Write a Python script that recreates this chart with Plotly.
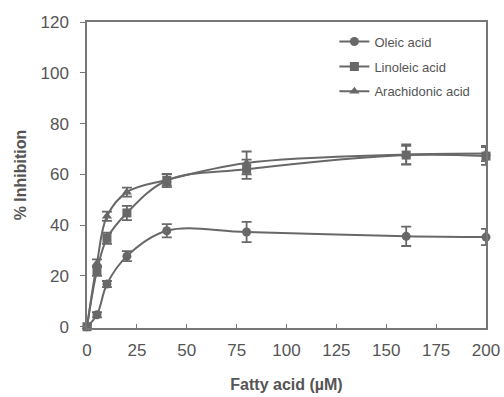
import plotly.graph_objects as go

conc = [0, 5, 10, 20, 40, 80, 160, 200]
oleic = [0, 4.7, 16.8, 27.8, 37.8, 37.3, 35.6, 35.3]
oleic_err = [0.8, 1.0, 1.2, 2.0, 2.6, 4.0, 3.8, 3.2]
linoleic = [0, 22, 34.8, 44.8, 57.6, 62, 67.6, 67.2]
linoleic_err = [0.8, 2.0, 2.2, 2.8, 2.6, 3.8, 3.6, 3.5]
arachidonic = [0, 25, 43.5, 53, 57.8, 64.5, 67.8, 68.2]
arachidonic_err = [0.8, 1.5, 1.8, 1.8, 2.2, 4.5, 4.0, 3.0]

names = ["Oleic acid", "Linoleic acid", "Arachidonic acid"]
series = [oleic, linoleic, arachidonic]
errs = [oleic_err, linoleic_err, arachidonic_err]
symbols = ["circle", "square", "triangle-up"]

col = "#686868"
fig = go.Figure()
for n, s, e, sym in zip(names, series, errs, symbols):
    fig.add_trace(go.Scatter(
        x=conc, y=s, name=n, mode="lines+markers", legendgroup=n,
        line=dict(color=col, width=2, shape="spline", smoothing=1.0),
        marker=dict(symbol=sym, size=9, color=col),
        error_y=dict(type="data", array=e, color=col, thickness=1.8, width=5),
        cliponaxis=False,
    ))

fig.update_layout(
    width=504, height=397,
    margin=dict(l=87, r=18, t=22, b=69),
    paper_bgcolor="white", plot_bgcolor="white",
    font=dict(family="Liberation Sans, Arial, sans-serif", color="#555555"),
    showlegend=True,
    legend=dict(x=0.62, y=0.985, xanchor="left", yanchor="top",
                bgcolor="rgba(0,0,0,0)", font=dict(size=13, color="#555555"),
                itemwidth=30, tracegroupgap=5),
    xaxis=dict(range=[0, 200], tickvals=[0, 25, 50, 75, 100, 125, 150, 175, 200],
               ticks="inside", ticklen=4, tickcolor="#777", showline=True,
               linecolor="#777", linewidth=1.5, mirror=True, showgrid=False,
               zeroline=False, tickfont=dict(size=17, color="#555"),
               ticklabelstandoff=6, automargin=False,
               title=dict(text="<b>Fatty acid (µM)</b>", font=dict(size=16, color="#555"), standoff=20)),
    yaxis=dict(range=[-0.5, 120], tickvals=[0, 20, 40, 60, 80, 100, 120],
               ticks="outside", ticklen=5, tickcolor="#777", showline=True,
               linecolor="#777", linewidth=1.5, mirror=True, showgrid=False,
               zeroline=False, tickfont=dict(size=17, color="#555"),
               ticklabelstandoff=8, automargin=False,
               title=dict(text="<b>% Inhibition</b>", font=dict(size=16, color="#555"), standoff=10)),
)
fig.write_html("out.html", config={"displayModeBar": False},
               post_script="document.body.style.margin='0';document.body.style.overflow='hidden';")
